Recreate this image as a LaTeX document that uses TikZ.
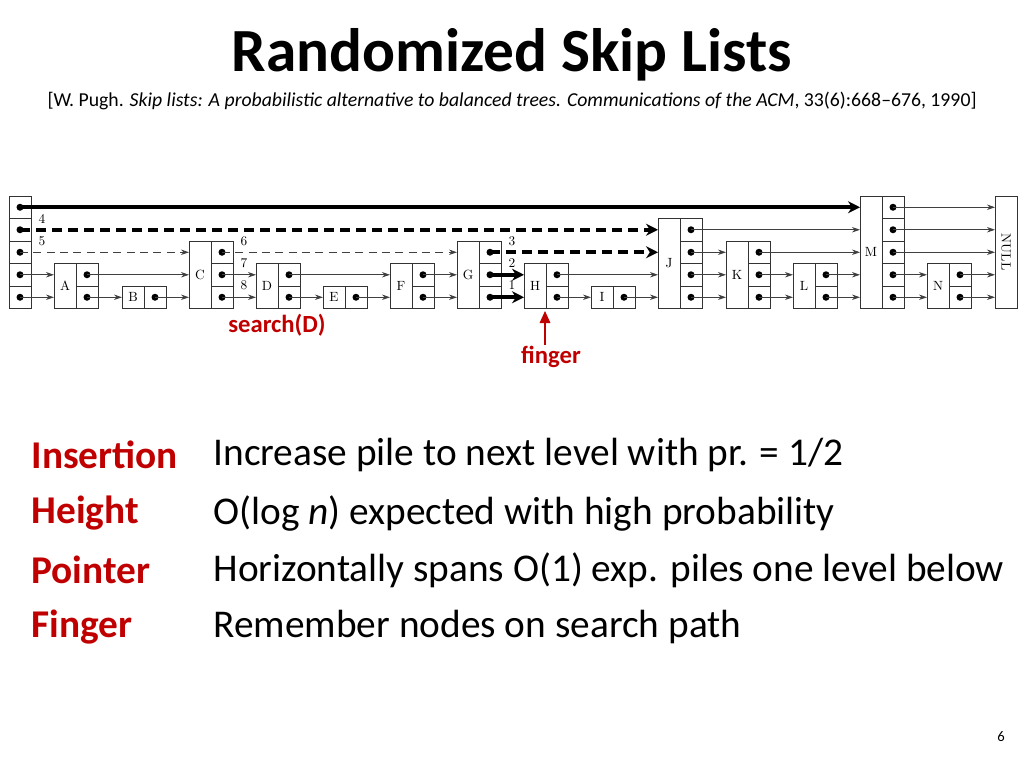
\documentclass[tikz,border=0pt]{standalone}
\usepackage{fontspec}
\setsansfont{Carlito}
\usetikzlibrary{arrows.meta}
\definecolor{slidered}{RGB}{192,0,0}
\tikzset{every picture/.style={line width=0.75pt}}
\tikzset{
  cell/.style={draw=black!80, line width=0.6pt},
  ptr/.style={draw=black!75, line width=0.6pt, -{Stealth[length=6pt,width=4pt]}},
  ptrdash/.style={ptr, dash pattern=on 6pt off 4pt},
  ptrbold/.style={draw=black, line width=3pt, -{Stealth[length=9pt,width=9pt]}},
  ptrbolddash/.style={ptrbold, dash pattern=on 7.5pt off 4.5pt},
  lvl/.style={inner sep=0pt},
  sidetxt/.style={font=\sffamily\fontsize{29.5}{34}\selectfont, anchor=west, inner sep=0pt},
  keytxt/.style={sidetxt, font=\sffamily\bfseries\fontsize{29.5}{34}\selectfont, text=slidered},
}
% pile: name, left x, height, label
\newcommand{\pile}[4]{%
  \draw[cell] (#2,308.5) rectangle (#2+22,308.5-22.5*#3);
  \node (#1) at (#2+11,308.5-11.25*#3) {#4};
  \foreach \k in {1,...,#3}{
    \draw[cell] (#2+22,331-22.5*\k) rectangle (#2+44,308.5-22.5*\k);
    \fill (#2+33,319.75-22.5*\k) circle [radius=3.5];
    \coordinate (#1-\k) at (#2+33,319.75-22.5*\k);
    \coordinate (#1-in-\k) at (#2,319.75-22.5*\k);
  }}
\begin{document}
\begin{tikzpicture}[x=0.75pt,y=0.75pt,yscale=-1,xscale=1]
\useasboundingbox (0,0) rectangle (1024,768);

% title
\node[font=\sffamily\bfseries\fontsize{46}{50}\selectfont] (title) at (512,55) {Randomized Skip Lists};
\node[font=\sffamily\fontsize{14.8}{17}\selectfont] (cite) at (512,101) {[W. Pugh. \textit{Skip lists: A probabilistic alternative to balanced trees. Communications of the ACM}, 33(6):668--676, 1990]};

% head
\foreach \k in {1,...,5}{
  \draw[cell] (9,331-22.5*\k) rectangle (31,308.5-22.5*\k);
  \fill (20,319.75-22.5*\k) circle [radius=3.5];
  \coordinate (head-\k) at (20,319.75-22.5*\k);
}
\pile{A}{54}{2}{A}
\pile{B}{122}{1}{B}
\pile{C}{189}{3}{C}
\pile{D}{256}{2}{D}
\pile{E}{323}{1}{E}
\pile{F}{390}{2}{F}
\pile{G}{457}{3}{G}
\pile{H}{524}{2}{H}
\pile{I}{591}{1}{I}
\pile{J}{658}{4}{J}
\pile{K}{726}{3}{K}
\pile{L}{793}{2}{L}
\pile{M}{860}{5}{M}
\pile{N}{927}{2}{N}
\draw[cell] (995,196) rectangle (1017,308.5);
\node[rotate=-90] (null) at (1006,252) {NULL};
\foreach \k in {1,...,5}{\coordinate (null-in-\k) at (995,319.75-22.5*\k);}

% search path
\draw[ptrbold] (head-5) -- (M-in-5);
\draw[ptrbolddash] (head-4) -- (J-in-4);
\draw[ptrbolddash] (G-3) -- (J-in-3);
\draw[ptrbold] (G-2) -- (H-in-2);
\draw[ptrbold] (G-1) -- (H-in-1);

% other pointers
\draw[ptrdash] (head-3) -- (C-in-3);
\draw[ptrdash] (C-3) -- (G-in-3);
\draw[ptr] (head-2) -- (A-in-2);
\draw[ptr] (head-1) -- (A-in-1);
\draw[ptr] (A-2) -- (C-in-2);
\draw[ptr] (A-1) -- (B-in-1);
\draw[ptr] (B-1) -- (C-in-1);
\draw[ptr] (C-2) -- (D-in-2);
\draw[ptr] (C-1) -- (D-in-1);
\draw[ptr] (D-2) -- (F-in-2);
\draw[ptr] (D-1) -- (E-in-1);
\draw[ptr] (E-1) -- (F-in-1);
\draw[ptr] (F-2) -- (G-in-2);
\draw[ptr] (F-1) -- (G-in-1);
\draw[ptr] (H-2) -- (J-in-2);
\draw[ptr] (H-1) -- (I-in-1);
\draw[ptr] (I-1) -- (J-in-1);
\draw[ptr] (J-4) -- (M-in-4);
\foreach \k in {1,2,3}{\draw[ptr] (J-\k) -- (K-in-\k);}
\draw[ptr] (K-3) -- (M-in-3);
\foreach \k in {1,2}{\draw[ptr] (K-\k) -- (L-in-\k);}
\foreach \k in {1,2}{\draw[ptr] (L-\k) -- (M-in-\k);}
\foreach \k in {3,4,5}{\draw[ptr] (M-\k) -- (null-in-\k);}
\foreach \k in {1,2}{\draw[ptr] (M-\k) -- (N-in-\k);}
\foreach \k in {1,2}{\draw[ptr] (N-\k) -- (null-in-\k);}

% step numbers
\node[lvl] (n4) at (42,219) {4};
\node[lvl] (n5) at (42,241) {5};
\node[lvl] (n6) at (244,241) {6};
\node[lvl] (n7) at (244,263) {7};
\node[lvl] (n8) at (244,285) {8};
\node[lvl] (n3) at (512,241) {3};
\node[lvl] (n2) at (512,263) {2};
\node[lvl] (n1) at (512,285) {1};

% red labels
\node[font=\sffamily\bfseries\fontsize{18.5}{21}\selectfont, text=slidered] (search) at (277,325) {search(D)};
\node[font=\sffamily\bfseries\fontsize{18.5}{21}\selectfont, text=slidered] (finger) at (551,357) {finger};
\coordinate (fingertip) at (545,311);
\draw[slidered, line width=0.8pt, -{Triangle[length=9pt,width=8pt]}] (545,345) -- (fingertip);

% description
\node[keytxt] (k1) at (31,455) {Insertion};
\node[keytxt] (k2) at (31,513) {Height};
\node[keytxt] (k3) at (31,570) {Pointer};
\node[keytxt] (k4) at (31,627) {Finger};
\node[sidetxt] (t1) at (213,455) {Increase pile to next level with pr. = 1/2};
\node[sidetxt] (t2) at (213,513) {O(log \textit{n}) expected with high probability};
\node[sidetxt] (t3) at (213,570) {Horizontally spans O(1) exp. piles one level below};
\node[sidetxt] (t4) at (213,627) {Remember nodes on search path};
\node[font=\sffamily\fontsize{11}{13}\selectfont] (page) at (1001,737) {6};
\end{tikzpicture}
\end{document}
